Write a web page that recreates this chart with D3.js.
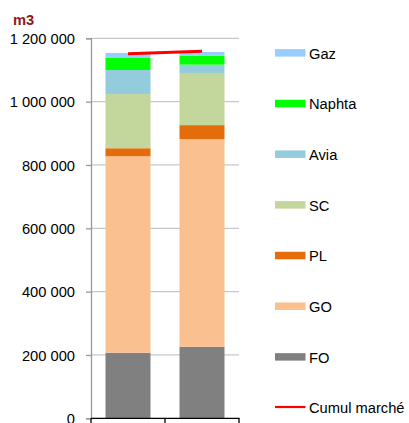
<!DOCTYPE html>
<html><head><meta charset="utf-8">
<script src="https://cdn.jsdelivr.net/npm/d3@7"></script>
<style>body{margin:0;background:#fff}svg{display:block}text{font-family:"Liberation Sans",Arial,sans-serif}</style>
</head><body><svg id="c" width="409" height="423"></svg>
<script>
const categories = ["A", "B"];
const seriesNames = ["FO", "GO", "PL", "SC", "Avia", "Naphta", "Gaz"];
const FO = [207000, 226000];
const GO = [620500, 655500];
const PL = [25300, 44300];
const SC = [171000, 164700];
const Avia = [76000, 26300];
const Naphta = [38000, 27500];
const Gaz = [16000, 12700];
const cumulMarche = [1151000, 1159000];
const yTicks = [0, 200000, 400000, 600000, 800000, 1000000, 1200000];
const legendOrder = ["Gaz", "Naphta", "Avia", "SC", "PL", "GO", "FO"];
const colors = {FO:"#808080", GO:"#FAC090", PL:"#E46C0A", SC:"#C3D69B", Avia:"#93CDDD", Naphta:"#00FF00", Gaz:"#99CCFF"};
const seriesData = {FO, GO, PL, SC, Avia, Naphta, Gaz};

const svg = d3.select("#c");
const x0 = 91, x1 = 239, yTop = 38.3, yBot = 418.3;
const x = d3.scaleBand().domain(categories).range([x0, x1]).paddingInner(0.39).paddingOuter(0.2);
const xc = d3.scaleBand().domain(categories).range([x0, x1]);
const y = d3.scaleLinear().domain([0, 1200000]).range([yBot, yTop]);

// gridlines
svg.append("g").selectAll("line").data(yTicks.slice(1)).join("line")
  .attr("x1", x0).attr("x2", x1).attr("y1", d => y(d)).attr("y2", d => y(d))
  .attr("stroke", "#c8c8c8").attr("stroke-width", 1.3);

// stacked bars
const table = categories.map((c, i) => { const o = {cat: c}; seriesNames.forEach(s => o[s] = seriesData[s][i]); return o; });
const stack = d3.stack().keys(seriesNames)(table);
const bw = 45;
svg.append("g").selectAll("g").data(stack).join("g").attr("fill", d => colors[d.key])
  .selectAll("rect").data(d => d).join("rect")
  .attr("x", d => xc(d.data.cat) + xc.bandwidth()/2 - bw/2)
  .attr("width", bw)
  .attr("y", d => y(d[1])).attr("height", d => y(d[0]) - y(d[1]));

// y axis
const yAxis = d3.axisLeft(y).tickValues(yTicks).tickSize(5).tickPadding(11)
  .tickFormat(d => d3.format(",")(d).replace(/,/g, " "));
const ya = svg.append("g").attr("transform", `translate(${x0},0)`).call(yAxis);
ya.select(".domain").attr("stroke", "#999").attr("stroke-width", 1.3);
ya.selectAll(".tick line").attr("stroke", "#999").attr("stroke-width", 1.3);
ya.selectAll(".tick text").attr("font-size", "14.7px").attr("fill", "#000").attr("font-family", '"Liberation Sans",Arial,sans-serif').attr("dy", "0.36em");

// x axis
const xAxis = d3.axisBottom(xc).tickValues([]).tickSizeOuter(0);
const xa = svg.append("g").attr("transform", `translate(0,${yBot})`);
xa.append("line").attr("x1", x0).attr("x2", x1 + 0.5).attr("stroke", "#000").attr("stroke-width", 1.3);
xa.selectAll(".sep").data([x0, ...categories.map(c => xc(c) + xc.bandwidth())]).join("line")
  .attr("x1", d => d).attr("x2", d => d).attr("y1", 0).attr("y2", 6).attr("stroke", "#000").attr("stroke-width", 1.3);

// cumul line
const line = d3.line().x((d, i) => xc(categories[i]) + xc.bandwidth()/2).y(d => y(d));
svg.append("path").datum(cumulMarche).attr("d", line).attr("fill", "none").attr("stroke", "#FF0000").attr("stroke-width", 3);

// m3 label
svg.append("text").attr("x", 13).attr("y", 25).text("m3").attr("font-size", "14.7px").attr("font-weight", "bold").attr("fill", "#8B1A1A");

// legend
const lg = svg.append("g");
const ly = d3.scalePoint().domain([...legendOrder, "Cumul marché"]).range([53.3, 408]);
legendOrder.forEach(k => {
  lg.append("rect").attr("x", 275).attr("y", ly(k) - 4.2).attr("width", 30.5).attr("height", 7.5).attr("fill", colors[k]);
  lg.append("text").attr("x", 309).attr("y", ly(k)).attr("dy", "0.36em").attr("font-size", "14.7px").text(k);
});
lg.append("line").attr("x1", 275).attr("x2", 305.5).attr("y1", ly("Cumul marché") - 1).attr("y2", ly("Cumul marché") - 1).attr("stroke", "#FF0000").attr("stroke-width", 2.2);
lg.append("text").attr("x", 309).attr("y", ly("Cumul marché")).attr("dy", "0.36em").attr("font-size", "14.7px").text("Cumul marché");
</script></body></html>
